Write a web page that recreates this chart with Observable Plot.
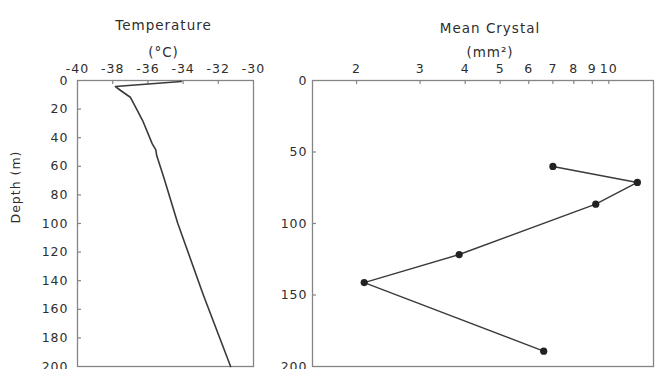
<!DOCTYPE html>
<html>
<head>
<meta charset="utf-8">
<script src="https://cdn.jsdelivr.net/npm/d3@7"></script>
<script src="https://cdn.jsdelivr.net/npm/@observablehq/plot@0.6"></script>
<style>
  html, body { margin: 0; padding: 0; background: #fff; }
  #wrap { position: relative; width: 656px; height: 369px; overflow: hidden; }
  #wrap > svg { position: absolute; top: 0; }
  svg text { letter-spacing: 1px; }
</style>
</head>
<body>
<div id="wrap"></div>
<script>
// Temperature profile (left panel)
const tempDepth = [0.7, 4.2, 7, 11.7, 18.7, 28, 44.3, 48.5, 52.5, 67.6, 100, 150, 200];
const tempValue = [-34.1, -37.85, -37.55, -37.0, -36.7, -36.3, -35.75, -35.55, -35.5, -35.1, -34.3, -32.85, -31.3];
const tempTicks = [-40, -38, -36, -34, -32, -30];
const depthTicksLeft = [0, 20, 40, 60, 80, 100, 120, 140, 160, 180, 200];

// Mean crystal size (right panel)
const crystalDepth = [60.1, 71.3, 86.5, 121.7, 141.3, 189.3];
const crystalSize = [7.0, 12.0, 9.2, 3.85, 2.1, 6.6];
const crystalTicks = [2, 3, 4, 5, 6, 7, 8, 9, 10];
const depthTicksRight = [0, 50, 100, 150, 200];

const leftTitle = ["Temperature", "(°C)"];
const rightTitle = ["Mean Crystal", "(mm²)"];
const yLabel = "Depth (m)";

const tempData = tempDepth.map((d, i) => ({depth: d, temp: tempValue[i]}));
const crystalData = crystalDepth.map((d, i) => ({depth: d, size: crystalSize[i]}));

const ink = "#2e2e2e";
const frameColor = "#858585";
const H = 369;
const mTop = 80, mBottom = 3;
const frameH = H - mTop - mBottom;
const tickFont = 12.5;

// Left panel
const LW = 270, lML = 77, lMR = 17;
const lFrameW = LW - lML - lMR;
const left = Plot.plot({
  width: LW, height: H,
  marginLeft: lML, marginRight: lMR, marginTop: mTop, marginBottom: mBottom,
  style: {fontFamily: "DejaVu Sans", fontSize: "12px", color: ink, background: "transparent", overflow: "visible"},
  x: {domain: [-40, -30]},
  y: {domain: [0, 200], reverse: true},
  marks: [
    Plot.frame({stroke: frameColor, strokeWidth: 1.3}),
    Plot.axisX({anchor: "top", ticks: tempTicks, tickSize: 0, tickPadding: 8, tickFormat: d => String(d), label: null, fill: ink, fontSize: tickFont}),
    Plot.axisY({anchor: "left", ticks: depthTicksLeft, tickSize: 0, tickPadding: 9, tickFormat: d => String(d), label: null, fill: ink, fontSize: tickFont}),
    Plot.tickX(tempTicks.slice(1, -1), {x: d => d, stroke: frameColor, strokeWidth: 1.2, insetBottom: frameH - 4}),
    Plot.tickY(depthTicksLeft.slice(1, -1), {y: d => d, stroke: frameColor, strokeWidth: 1.2, insetRight: lFrameW - 4}),
    Plot.line(tempData, {x: "temp", y: "depth", stroke: "#3a3a3a", strokeWidth: 1.6, curve: "linear"}),
    Plot.text([leftTitle[0]], {frameAnchor: "top", dy: -60, dx: -2, fontSize: 13.5, fill: ink}),
    Plot.text([leftTitle[1]], {frameAnchor: "top", dy: -33, dx: -2, fontSize: 13.5, fill: ink}),
    Plot.text([yLabel], {frameAnchor: "left", dx: -62, rotate: -90, fontSize: 12.5, fill: ink})
  ]
});
left.style.left = "0px";

// Right panel
const RX = 270, RW = 386, rML = 42, rMR = 3;
const rFrameW = RW - rML - rMR;
const right = Plot.plot({
  width: RW, height: H,
  marginLeft: rML, marginRight: rMR, marginTop: mTop, marginBottom: mBottom,
  style: {fontFamily: "DejaVu Sans", fontSize: "12px", color: ink, background: "transparent", overflow: "visible"},
  x: {type: "log", domain: [1.51, 13.3]},
  y: {domain: [0, 200], reverse: true},
  marks: [
    Plot.frame({stroke: frameColor, strokeWidth: 1.3}),
    Plot.axisX({anchor: "top", ticks: crystalTicks, tickSize: 0, tickPadding: 8, tickFormat: d => String(d), label: null, fill: ink, fontSize: tickFont}),
    Plot.axisY({anchor: "left", ticks: depthTicksRight, tickSize: 0, tickPadding: 5, tickFormat: d => String(d), label: null, fill: ink, fontSize: tickFont}),
    Plot.tickX(crystalTicks, {x: d => d, stroke: frameColor, strokeWidth: 1.2, insetBottom: frameH - 4}),
    Plot.tickY(depthTicksRight.slice(1, -1), {y: d => d, stroke: frameColor, strokeWidth: 1.2, insetRight: rFrameW - 4}),
    Plot.line(crystalData, {x: "size", y: "depth", stroke: "#3a3a3a", strokeWidth: 1.4}),
    Plot.dot(crystalData, {x: "size", y: "depth", r: 3.6, fill: "#222", stroke: "none"}),
    Plot.text([rightTitle[0]], {frameAnchor: "top", dy: -57, dx: 7, fontSize: 13.5, fill: ink}),
    Plot.text([rightTitle[1]], {frameAnchor: "top", dy: -33, dx: 7, fontSize: 13.5, fill: ink})
  ]
});
right.style.left = RX + "px";

const wrap = document.getElementById("wrap");
wrap.appendChild(left);
wrap.appendChild(right);
</script>
</body>
</html>
